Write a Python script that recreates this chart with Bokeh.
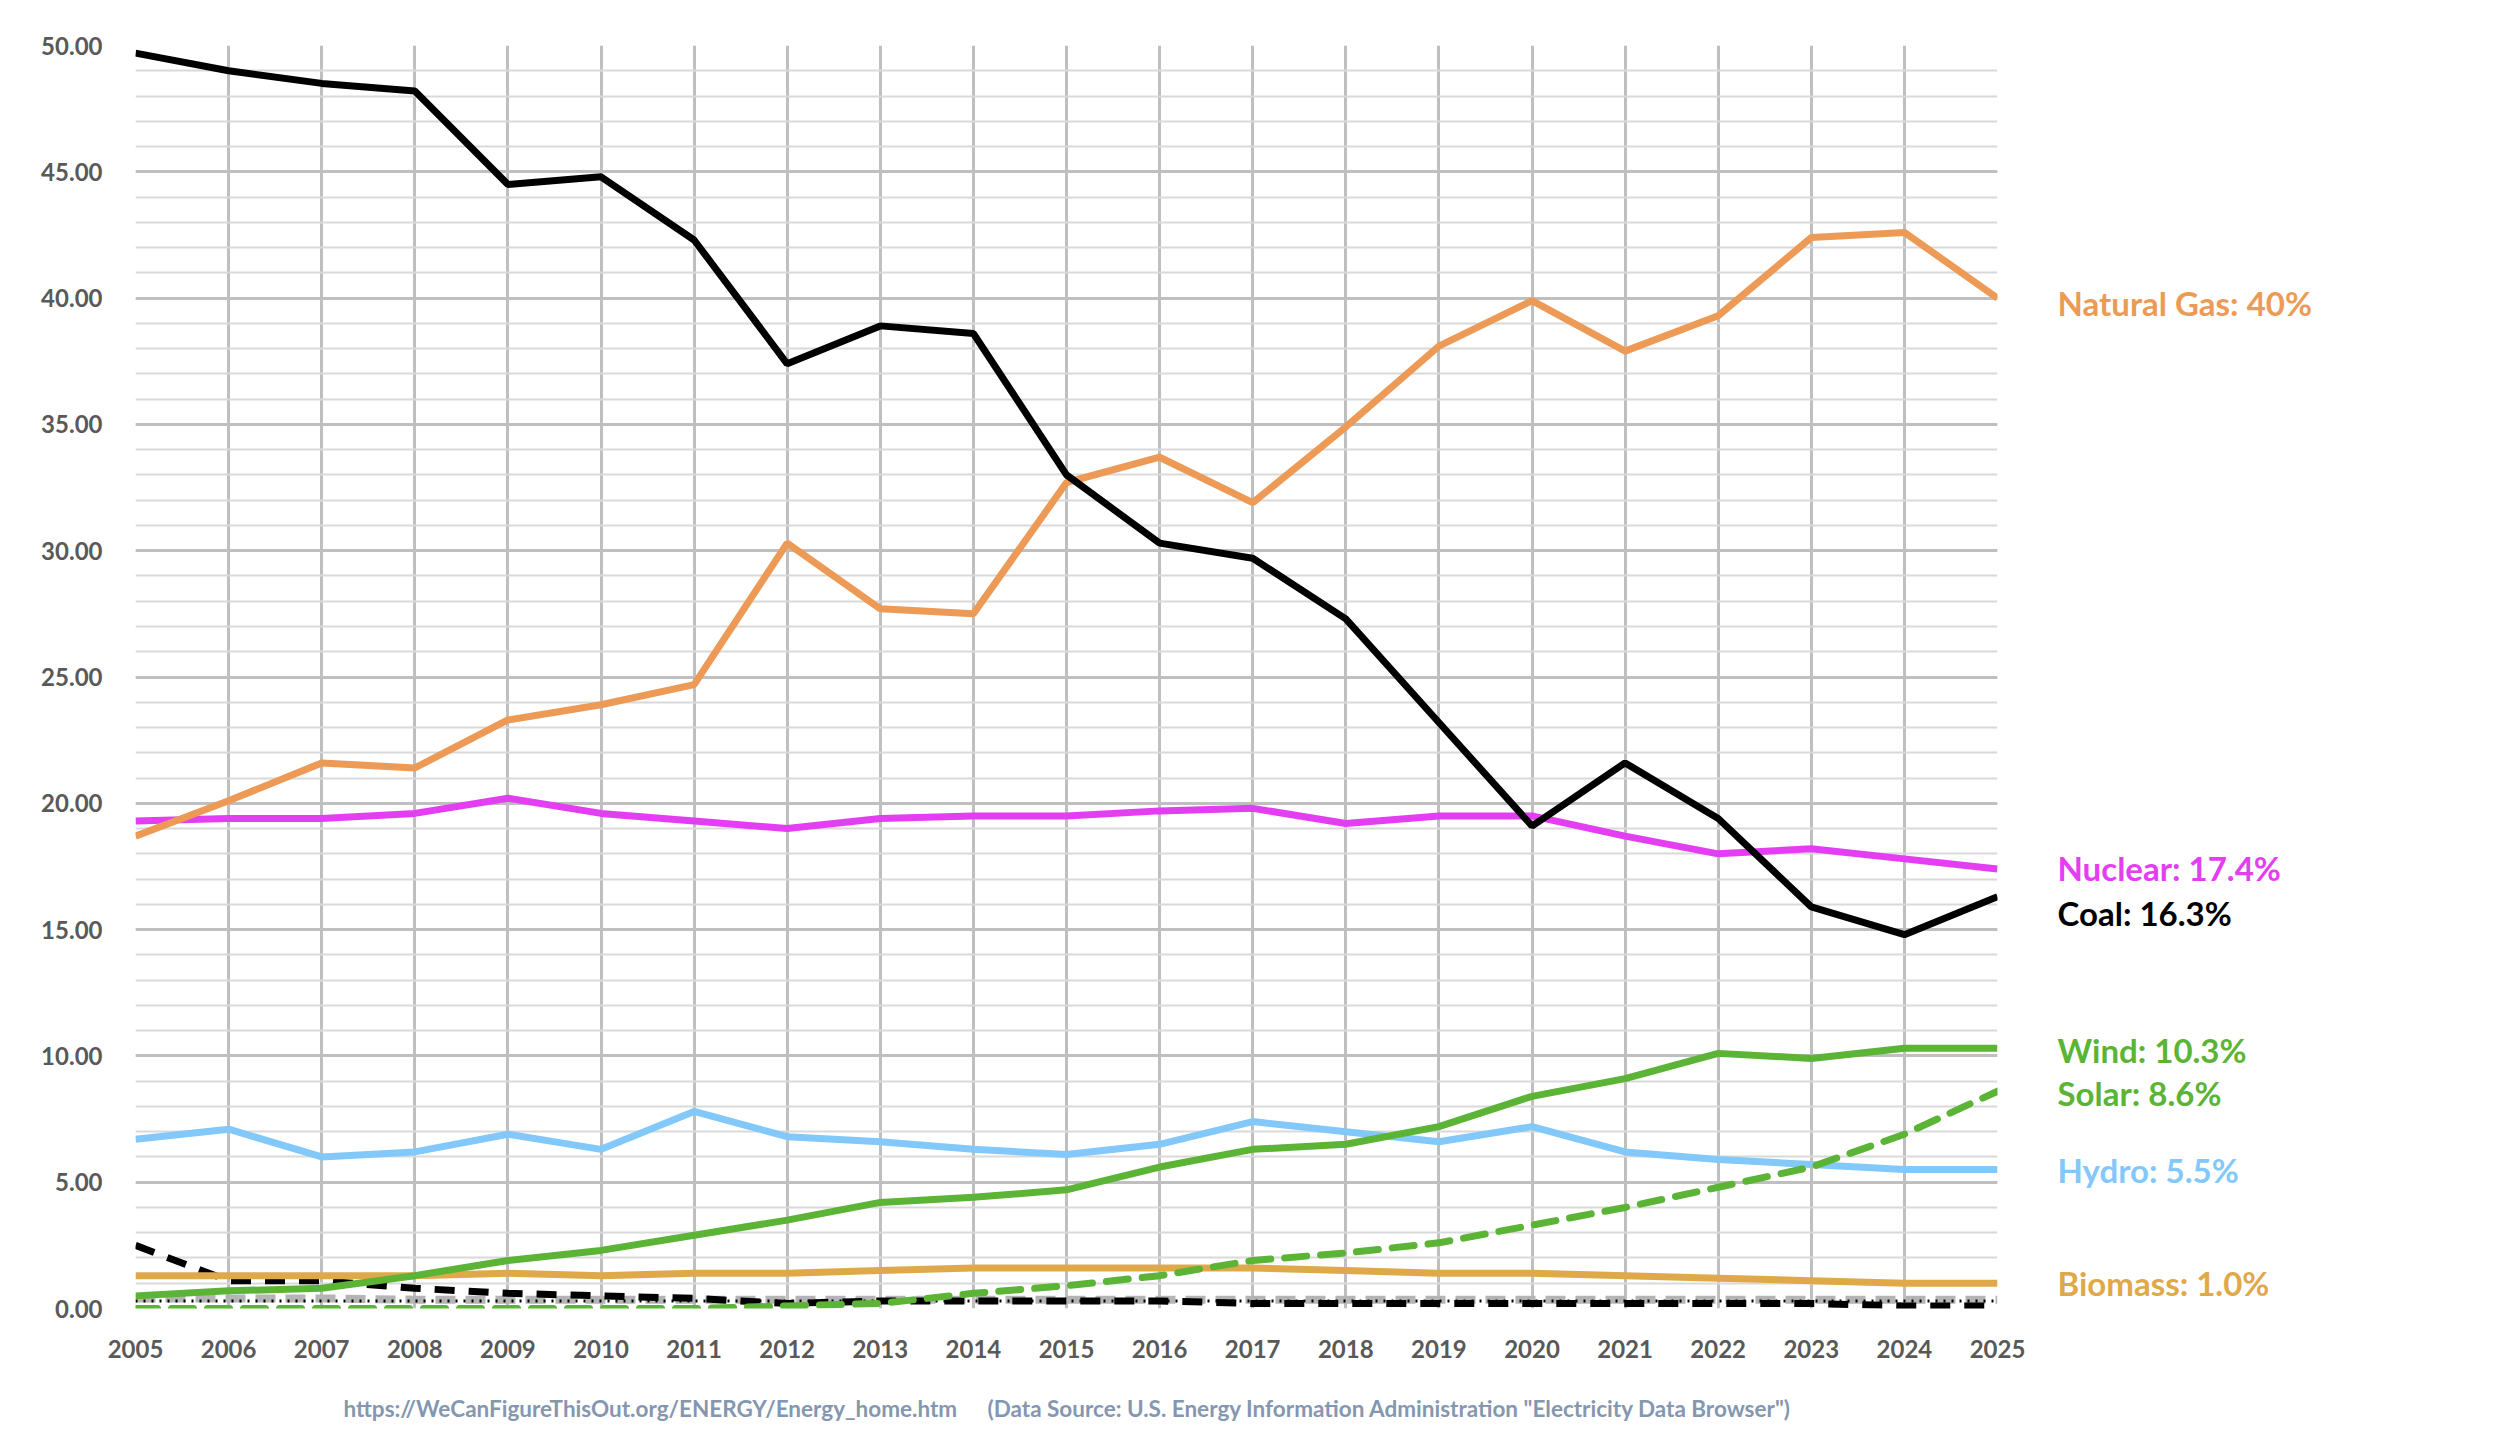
from bokeh.plotting import figure
from bokeh.layouts import column, row
from bokeh.models import (Range1d, SingleIntervalTicker, FixedTicker,
                          NumeralTickFormatter, ColumnDataSource)
from bokeh.core.properties import value
from bokeh.embed import file_html
from bokeh.resources import INLINE

# share of US electricity generation (%) by source
years = list(range(2005, 2026))
coal = [49.7, 49.0, 48.5, 48.2, 44.5, 44.8, 42.3, 37.4, 38.9, 38.6, 33.0,
        30.3, 29.7, 27.3, 23.2, 19.1, 21.6, 19.4, 15.9, 14.8, 16.3]
gas = [18.7, 20.1, 21.6, 21.4, 23.3, 23.9, 24.7, 30.3, 27.7, 27.5, 32.7,
       33.7, 31.9, 34.9, 38.1, 39.9, 37.9, 39.3, 42.4, 42.6, 40.0]
nuclear = [19.3, 19.4, 19.4, 19.6, 20.2, 19.6, 19.3, 19.0, 19.4, 19.5, 19.5,
           19.7, 19.8, 19.2, 19.5, 19.5, 18.7, 18.0, 18.2, 17.8, 17.4]
hydro = [6.7, 7.1, 6.0, 6.2, 6.9, 6.3, 7.8, 6.8, 6.6, 6.3, 6.1,
         6.5, 7.4, 7.0, 6.6, 7.2, 6.2, 5.9, 5.7, 5.5, 5.5]
wind = [0.5, 0.7, 0.8, 1.3, 1.9, 2.3, 2.9, 3.5, 4.2, 4.4, 4.7,
        5.6, 6.3, 6.5, 7.2, 8.4, 9.1, 10.1, 9.9, 10.3, 10.3]
solar = [0.0, 0.0, 0.0, 0.0, 0.0, 0.0, 0.0, 0.1, 0.2, 0.6, 0.9,
         1.3, 1.9, 2.2, 2.6, 3.3, 4.0, 4.8, 5.6, 6.9, 8.6]
biomass = [1.3, 1.3, 1.3, 1.3, 1.4, 1.3, 1.4, 1.4, 1.5, 1.6, 1.6,
           1.6, 1.6, 1.5, 1.4, 1.4, 1.3, 1.2, 1.1, 1.0, 1.0]
petroleum = [2.5, 1.1, 1.1, 0.8, 0.6, 0.5, 0.4, 0.2, 0.3, 0.3, 0.3,
             0.3, 0.2, 0.2, 0.2, 0.2, 0.2, 0.2, 0.2, 0.1, 0.1]
other_gas = [0.4, 0.4, 0.4, 0.35, 0.35, 0.35, 0.35, 0.35, 0.35, 0.35, 0.35,
             0.35, 0.35, 0.35, 0.35, 0.35, 0.35, 0.35, 0.35, 0.35, 0.35]
other = [0.3, 0.3, 0.3, 0.3, 0.3, 0.3, 0.3, 0.3, 0.3, 0.3, 0.3,
         0.3, 0.3, 0.3, 0.3, 0.3, 0.3, 0.3, 0.3, 0.3, 0.3]

end_labels = ["Natural Gas: 40%", "Nuclear: 17.4%", "Coal: 16.3%", "Wind: 10.3%",
              "Solar: 8.6%", "Hydro: 5.5%", "Biomass: 1.0%"]
end_label_y = [39.8, 17.45, 15.65, 10.25, 8.55, 5.5, 1.0]
end_label_colors = ["#ec9a56", "#e33ef2", "#000000", "#5bb435",
                    "#5bb435", "#82c8fa", "#dfa94a"]

footer = ["https://WeCanFigureThisOut.org/ENERGY/Energy_home.htm",
          '(Data Source: U.S. Energy Information Administration "Electricity Data Browser")']

FONT = "Lato"
LW = 7

p = figure(width=2037, height=1388, output_backend="svg", toolbar_location=None,
           x_range=Range1d(2005, 2025), y_range=Range1d(0, 50),
           min_border_left=135, min_border_right=40,
           min_border_top=45, min_border_bottom=80)
p.outline_line_color = None

# grid
p.xaxis.ticker = FixedTicker(ticks=years)
p.yaxis.ticker = SingleIntervalTicker(interval=5, num_minor_ticks=5)
p.xgrid.grid_line_color = "#bfbfbf"
p.xgrid.grid_line_width = 3
p.ygrid.grid_line_color = "#bfbfbf"
p.ygrid.grid_line_width = 3
p.ygrid.minor_grid_line_color = "#d9d9d9"
p.ygrid.minor_grid_line_width = 2

for ax in (p.xaxis, p.yaxis):
    ax.axis_line_color = None
    ax.major_tick_line_color = None
    ax.minor_tick_line_color = None
    ax.major_label_text_font = FONT
    ax.major_label_text_font_style = "bold"
    ax.major_label_text_font_size = "24px"
    ax.major_label_text_color = "#595959"
p.yaxis.formatter = NumeralTickFormatter(format="0.00")
p.yaxis.major_label_standoff = 27
p.xaxis.major_label_standoff = 25

# small series near zero
p.line(years, other_gas, line_color="#b4b4b4", line_width=8, line_dash="20 10")
p.line(years, other, line_color="black", line_width=3, line_dash="2 6")
p.line(years, petroleum, line_color="black", line_width=7, line_dash="20 14")

p.line(years, biomass, line_color="#dfa94a", line_width=LW)
p.line(years, hydro, line_color="#82c8fa", line_width=LW)
p.line(years, wind, line_color="#5bb435", line_width=LW)
p.line(years, solar, line_color="#5bb435", line_width=LW, line_dash="22 14",
       line_cap="round")
p.line(years, nuclear, line_color="#e33ef2", line_width=LW)
p.line(years, gas, line_color="#ec9a56", line_width=LW)
p.line(years, coal, line_color="black", line_width=LW)

# end-of-line labels, sharing the y scale
lab = figure(width=463, height=1388, output_backend="svg", toolbar_location=None,
             x_range=Range1d(0, 463), y_range=p.y_range,
             min_border_left=0, min_border_right=0,
             min_border_top=45, min_border_bottom=80)
lab.axis.visible = False
lab.grid.visible = False
lab.outline_line_color = None
src = ColumnDataSource(dict(x=[20] * len(end_labels), y=end_label_y,
                            text=end_labels, color=end_label_colors))
lab.text("x", "y", text="text", text_color="color", source=src,
         text_font=value(FONT), text_font_style="bold",
         text_font_size="33px", text_baseline="middle")

# footer line
foot = figure(width=2500, height=48, output_backend="svg", toolbar_location=None,
              x_range=Range1d(0, 2500), y_range=Range1d(0, 48),
              min_border=0)
foot.axis.visible = False
foot.grid.visible = False
foot.outline_line_color = None
foot.text([343, 987], [28, 28], text=footer, text_color="#8497b0",
          text_font=value(FONT), text_font_style="bold",
          text_font_size="22.5px", text_baseline="middle")

layout = column(row(p, lab), foot)
open("out.html", "w").write(file_html(layout, INLINE))
